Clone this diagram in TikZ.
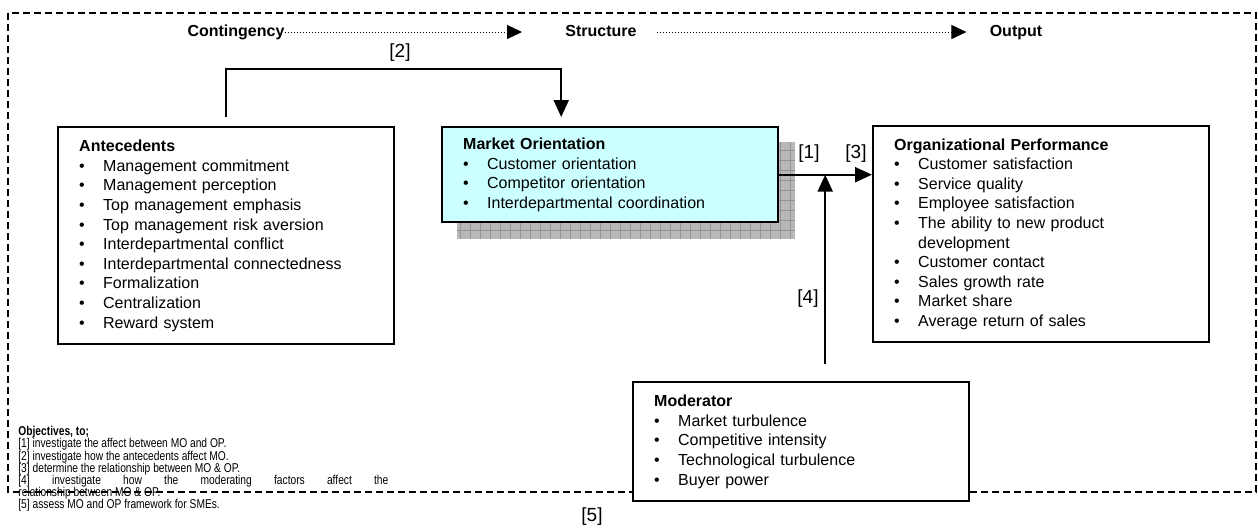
\documentclass[tikz,border=0pt]{standalone}
\usepackage{fontspec}
\setmainfont{Liberation Sans}
\newfontfamily\narrowfont[FakeStretch=0.8]{Liberation Sans}
\usetikzlibrary{arrows.meta}
\usetikzlibrary{backgrounds}
\definecolor{mocyan}{RGB}{204,255,255}
\definecolor{shadowgray}{rgb}{0.72,0.72,0.72}
\definecolor{gridgray}{rgb}{0.58,0.58,0.58}
\newcommand{\bl}[1]{\makebox[12pt][l]{\textbullet}#1}

\begin{document}
\begin{tikzpicture}[x=0.5pt,y=-0.5pt,
    box/.style={draw,line width=1.2pt,fill=white,anchor=north west,align=left,
      text width=147pt,inner xsep=10.5pt,inner ysep=0pt,
      font=\fontsize{8}{9.8}\selectfont},
    head/.style={inner sep=0pt,text height=5.8pt,text depth=1.7pt,
      font=\fontsize{8}{9.6}\selectfont\bfseries},
    lbl/.style={inner sep=0pt,font=\fontsize{9.5}{11}\selectfont},
    objtext/.style={anchor=north west,inner sep=0pt,text width=185pt,
      align=justify,font=\narrowfont\fontsize{6.4}{6.1}\selectfont},
    link/.style={line width=1.1pt,-{Triangle[length=8.5pt,width=7.5pt]}},
    dotlink/.style={line width=0.5pt,dash pattern=on 0.5pt off 1pt,
      -{Triangle[length=7.5pt,width=7pt]}}]
  \useasboundingbox (0,0) rectangle (1258,527);
  % Rahmen
  \draw[line width=0.8pt,dash pattern=on 3.5pt off 2pt] (8,13) rectangle (1256,492);
  % Kopfzeile
  \node[head] (cont) at (236,32) {Contingency};
  \node[head] (struc) at (601,32) {Structure};
  \node[head] (outp) at (1016,32) {Output};
  \draw[dotlink] (cont.east) -- ([xshift=-21.5pt]struc.west);
  \draw[dotlink] ([xshift=10pt]struc.east) -- ([xshift=-11.5pt]outp.west);
  % Kaesten
  \node[box,minimum height=108.5pt] (ante) at (57,126) {\textbf{Antecedents}\\
    \bl{Management commitment}\\ \bl{Management perception}\\
    \bl{Top management emphasis}\\ \bl{Top management risk aversion}\\
    \bl{Interdepartmental conflict}\\ \bl{Interdepartmental connectedness}\\
    \bl{Formalization}\\ \bl{Centralization}\\ \bl{Reward system}};
  \node[box,fill=mocyan,minimum height=47.5pt] (mo) at (441,126) {\textbf{Market Orientation}\\
    \bl{Customer orientation}\\ \bl{Competitor orientation}\\
    \bl{Interdepartmental coordination}};
  \begin{scope}[on background layer]
    \fill[shadowgray] ([xshift=8pt,yshift=-8pt]mo.north west) rectangle ([xshift=8pt,yshift=-8pt]mo.south east);
    \draw[gridgray,line width=0.3pt,step=5pt] ([xshift=8pt,yshift=-8pt]mo.north west) grid ([xshift=8pt,yshift=-8pt]mo.south east);
  \end{scope}
  \node[box,minimum height=108pt] (op) at (872,125) {\textbf{Organizational Performance}\\
    \bl{Customer satisfaction}\\ \bl{Service quality}\\ \bl{Employee satisfaction}\\
    \bl{The ability to new product}\\ \hspace*{12pt}development\\
    \bl{Customer contact}\\ \bl{Sales growth rate}\\ \bl{Market share}\\
    \bl{Average return of sales}};
  \node[box,minimum height=59.5pt] (mod) at (632,381) {\textbf{Moderator}\\
    \bl{Market turbulence}\\ \bl{Competitive intensity}\\
    \bl{Technological turbulence}\\ \bl{Buyer power}};
  % Pfeile
  \draw[link] ([yshift=4.5pt]ante.north) -- ++(0,-48) -| ([xshift=-24.5pt,yshift=4.5pt]mo.north);
  \draw[link] (mo.east) -- (mo.east -| op.west);
  \coordinate (m4) at ([xshift=12pt,yshift=8.5pt]mod.north);
  \draw[link] (m4) -- (m4 |- mo.east);
  \foreach \t/\px/\py in {2/400/53,1/809/154,3/856/154,4/808/299,5/592/517}
    \node[lbl] (l\t) at (\px,\py) {[\t]};
  % Ziele
  \node[objtext] (obj) at (18,426) {\textbf{Objectives, to;}\\
    {[1]} investigate the affect between MO and OP.\\
    {[2]} investigate how the antecedents affect MO.\\
    {[3]} determine the relationship between MO \& OP.\\
    {[4]} investigate how the moderating factors affect the\linebreak
    relationship between MO \& OP.\\
    {[5]} assess MO and OP framework for SMEs.};
\end{tikzpicture}
\end{document}
